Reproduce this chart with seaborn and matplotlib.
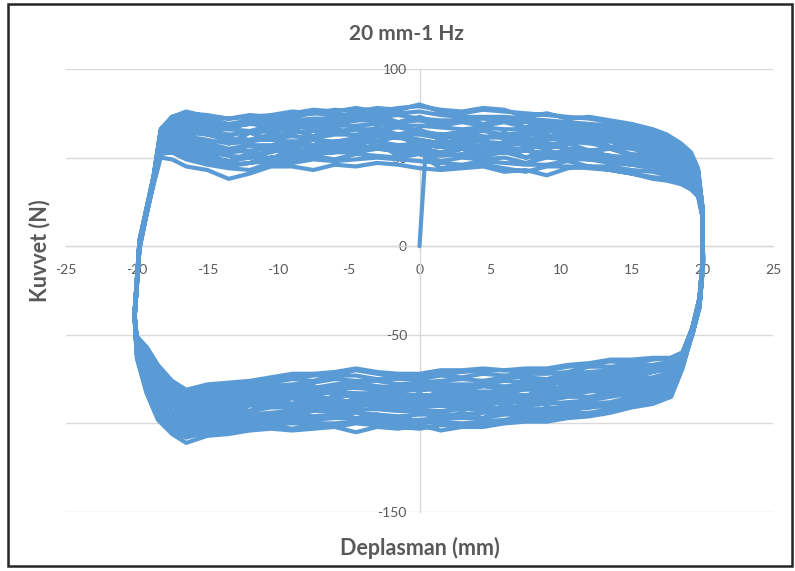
import matplotlib
matplotlib.use("Agg")
import matplotlib.pyplot as plt
import pandas as pd
import seaborn as sns
from matplotlib.patches import Rectangle

TITLE = "20 mm-1 Hz"
X_LABEL = "Deplasman (mm)"
Y_LABEL = "Kuvvet (N)"
X_TICKS = [-25, -20, -15, -10, -5, 0, 5, 10, 15, 20, 25]
Y_TICKS = [-150, -100, -50, 0, 50, 100]

# initial loading from rest
START_X = [0.0, 0.4]
START_Y = [0.0, 50.0]

# displacement samples of the positive-going (upper) branch
X_TOP = [-20.15, -19.8, -19.3, -18.8, -18.3, -17.5, -16.5, -15, -13.5, -12, -10.5, -9, -7.5, -6,
         -4.5, -3, -1.5, 0, 1.5, 3, 4.5, 6, 7.5, 9, 10.5, 12, 13.5, 15, 16.5, 17.5, 18.5, 19.2,
         19.7, 20.0]
# displacement samples of the negative-going (lower) branch
X_BOT = [20.05, 19.8, 19.3, 18.6, 17.8, 16.5, 15, 13.5, 12, 10.5, 9, 7.5, 6, 4.5, 3, 1.5, 0,
         -1.5, -3, -4.5, -6, -7.5, -9, -10.5, -12, -13.5, -15, -16.5, -17.5, -18.5, -19.3, -20.0]

# force read along the upper branch, one row per cycle
TOP_Y = [
    [-42, -3, 18, 35, 51, 51, 47, 44, 40, 42, 44, 46, 45, 47, 47, 48, 47, 46, 44, 45, 46, 44, 42, 45, 45, 44, 43, 41, 39, 38, 36, 33, 29, 17],
    [-40, -2, 19, 36, 53, 53, 49, 46, 44, 43, 47, 47, 49, 48, 49, 50, 49, 48, 47, 46, 48, 47, 46, 46, 48, 45, 45, 43, 42, 40, 38, 34, 31, 18],
    [-41, -1, 18, 37, 54, 55, 52, 48, 46, 47, 48, 50, 51, 49, 52, 51, 50, 52, 48, 50, 49, 50, 47, 50, 49, 49, 47, 46, 44, 42, 40, 36, 32, 18],
    [-39, 0, 20, 36, 55, 56, 54, 51, 48, 50, 50, 52, 53, 53, 53, 55, 54, 52, 51, 52, 51, 53, 50, 51, 52, 50, 50, 48, 46, 44, 41, 38, 33, 19],
    [-40, 1, 19, 37, 55, 57, 56, 53, 51, 50, 54, 53, 55, 55, 57, 55, 57, 55, 53, 55, 53, 53, 54, 52, 54, 53, 51, 50, 48, 46, 43, 39, 34, 19],
    [-38, 1, 20, 38, 56, 59, 57, 55, 53, 54, 55, 57, 56, 58, 58, 59, 57, 58, 56, 56, 57, 55, 55, 57, 55, 54, 55, 52, 51, 48, 45, 41, 35, 20],
    [-39, 2, 19, 37, 58, 61, 60, 58, 55, 57, 57, 59, 60, 59, 61, 62, 61, 60, 58, 60, 59, 58, 59, 57, 59, 58, 56, 55, 52, 50, 47, 43, 36, 19],
    [-39, 1, 20, 38, 59, 63, 62, 60, 58, 59, 61, 62, 61, 63, 63, 64, 63, 63, 61, 62, 61, 62, 60, 61, 61, 59, 59, 57, 55, 52, 49, 44, 37, 20],
    [-40, 2, 19, 37, 60, 65, 64, 63, 61, 60, 63, 64, 65, 64, 66, 66, 67, 65, 63, 64, 65, 63, 64, 62, 63, 62, 61, 59, 57, 54, 50, 46, 38, 21],
    [-38, 2, 21, 38, 62, 67, 67, 65, 63, 64, 65, 67, 67, 68, 68, 69, 68, 68, 67, 66, 67, 66, 66, 65, 64, 64, 62, 61, 59, 56, 52, 47, 39, 20],
    [-39, 3, 20, 39, 63, 69, 69, 68, 66, 65, 68, 69, 70, 69, 71, 71, 70, 71, 68, 70, 68, 70, 67, 67, 67, 65, 64, 63, 61, 58, 54, 48, 40, 22],
    [-38, 2, 21, 38, 64, 71, 72, 70, 68, 69, 70, 71, 72, 72, 73, 73, 74, 72, 71, 71, 72, 71, 70, 69, 69, 67, 66, 65, 62, 59, 55, 50, 41, 21],
    [-37, 3, 20, 39, 65, 72, 73, 72, 69, 71, 72, 73, 75, 74, 74, 76, 75, 76, 74, 73, 73, 73, 72, 71, 70, 69, 68, 66, 64, 61, 56, 51, 42, 22],
    [-38, 4, 22, 40, 66, 73, 75, 74, 72, 73, 74, 76, 75, 77, 76, 78, 77, 80, 76, 75, 77, 76, 75, 74, 73, 72, 70, 67, 65, 62, 57, 52, 43, 23],
    [-40, 2, 20, 37, 52, 53, 50, 47, 45, 47, 50, 49, 52, 53, 55, 56, 55, 59, 58, 60, 61, 63, 62, 65, 66, 65, 64, 63, 62, 59, 55, 50, 40, 21],
    [-38, 1, 19, 38, 64, 70, 71, 70, 67, 69, 68, 67, 68, 65, 66, 63, 62, 60, 58, 58, 56, 53, 54, 52, 50, 49, 48, 46, 45, 42, 39, 36, 31, 18],
    [-39, 2, 20, 36, 56, 58, 52, 52, 47, 53, 49, 55, 52, 57, 53, 58, 51, 56, 52, 55, 50, 56, 50, 54, 51, 52, 49, 51, 46, 47, 42, 40, 33, 20],
    [-41, 0, 18, 37, 60, 66, 63, 65, 58, 64, 60, 66, 62, 67, 61, 67, 63, 66, 60, 65, 61, 64, 59, 63, 58, 61, 56, 58, 53, 53, 48, 45, 37, 22],
    [-38, 3, 21, 39, 64, 70, 70, 66, 66, 70, 66, 72, 70, 70, 71, 74, 70, 73, 69, 72, 69, 71, 67, 70, 66, 68, 64, 64, 60, 58, 53, 48, 41, 19],
    [-40, 1, 19, 36, 53, 55, 52, 50, 48, 51, 53, 56, 57, 59, 60, 62, 63, 64, 63, 64, 62, 61, 59, 58, 55, 53, 51, 48, 46, 43, 40, 37, 32, 21],
    [-39, 2, 20, 38, 62, 67, 66, 63, 60, 60, 60, 59, 57, 56, 55, 55, 54, 54, 53, 55, 56, 57, 58, 60, 61, 62, 61, 60, 58, 56, 52, 47, 38, 20],
    [-37, 1, 19, 37, 57, 61, 59, 56, 53, 57, 54, 58, 60, 56, 61, 59, 62, 57, 56, 60, 55, 59, 57, 55, 58, 54, 55, 51, 50, 48, 44, 41, 34, 22],
    [-41, 0, 18, 35, 50, 49, 45, 43, 38, 41, 45, 45, 43, 46, 45, 47, 46, 44, 43, 44, 45, 42, 43, 40, 44, 45, 43, 41, 38, 37, 35, 32, 28, 17],
    [-38, 3, 21, 40, 66, 73, 76, 73, 72, 74, 73, 75, 77, 76, 78, 76, 78, 79, 77, 76, 78, 77, 73, 75, 72, 73, 71, 69, 66, 63, 58, 53, 44, 23],
]

# force read along the lower branch, one row per cycle
BOT_Y = [
    [-6, -30, -46, -60, -63, -64, -66, -65, -67, -68, -70, -71, -70, -70, -71, -72, -73, -74, -72, -70, -72, -73, -74, -75, -77, -78, -80, -82, -77, -68, -57, -51],
    [-8, -31, -47, -61, -65, -67, -67, -68, -68, -71, -72, -72, -73, -72, -74, -73, -75, -75, -75, -73, -73, -76, -75, -77, -79, -80, -82, -84, -79, -70, -59, -52],
    [-7, -32, -47, -61, -66, -68, -69, -70, -71, -72, -75, -74, -74, -76, -75, -76, -77, -78, -76, -76, -75, -77, -78, -79, -80, -82, -84, -86, -81, -72, -61, -53],
    [-9, -31, -48, -62, -68, -70, -71, -72, -73, -74, -76, -77, -76, -78, -78, -78, -79, -80, -79, -77, -78, -80, -79, -81, -82, -84, -86, -88, -84, -75, -63, -54],
    [-5, -29, -46, -62, -69, -71, -73, -74, -76, -77, -78, -79, -79, -79, -81, -81, -81, -82, -81, -80, -80, -82, -82, -83, -84, -86, -88, -90, -86, -77, -65, -55],
    [-10, -33, -48, -63, -71, -74, -75, -76, -78, -79, -81, -81, -82, -82, -82, -84, -84, -84, -83, -83, -82, -84, -85, -85, -86, -88, -90, -92, -88, -79, -67, -56],
    [-7, -31, -47, -64, -73, -76, -77, -79, -80, -81, -83, -84, -84, -85, -86, -86, -87, -86, -86, -84, -85, -87, -86, -87, -88, -90, -92, -94, -90, -81, -69, -56],
    [-11, -34, -49, -64, -75, -77, -79, -81, -82, -84, -85, -86, -86, -87, -88, -87, -88, -89, -88, -87, -88, -89, -89, -89, -90, -92, -94, -96, -93, -84, -71, -57],
    [-6, -30, -46, -65, -76, -79, -81, -83, -85, -85, -87, -88, -88, -90, -90, -90, -91, -91, -90, -89, -90, -91, -91, -91, -93, -94, -96, -98, -95, -86, -73, -58],
    [-9, -32, -48, -66, -78, -81, -83, -85, -87, -88, -89, -90, -91, -92, -92, -93, -93, -93, -92, -92, -93, -93, -93, -94, -95, -96, -98, -100, -97, -88, -75, -59],
    [-8, -33, -49, -66, -80, -83, -85, -88, -89, -90, -92, -92, -93, -94, -95, -95, -95, -96, -95, -94, -95, -96, -95, -96, -97, -98, -100, -102, -99, -90, -77, -60],
    [-12, -35, -50, -67, -81, -85, -87, -90, -91, -92, -94, -95, -95, -97, -97, -97, -98, -98, -97, -97, -97, -98, -98, -98, -99, -100, -101, -104, -101, -92, -79, -60],
    [-7, -31, -47, -68, -83, -87, -89, -92, -94, -94, -96, -96, -98, -99, -100, -99, -100, -100, -99, -99, -100, -100, -100, -100, -101, -102, -103, -106, -103, -95, -81, -61],
    [-10, -34, -49, -68, -84, -88, -90, -93, -95, -96, -97, -98, -99, -100, -101, -101, -103, -102, -101, -100, -102, -101, -103, -101, -102, -104, -105, -108, -104, -97, -82, -62],
    [-8, -32, -47, -61, -66, -69, -70, -72, -74, -76, -78, -80, -81, -83, -84, -86, -87, -88, -89, -90, -92, -93, -95, -95, -97, -98, -100, -102, -100, -92, -78, -60],
    [-6, -30, -46, -67, -82, -85, -88, -89, -91, -92, -92, -93, -92, -91, -91, -90, -89, -87, -85, -84, -82, -81, -80, -79, -79, -79, -80, -82, -79, -70, -59, -52],
    [-9, -33, -48, -62, -70, -69, -75, -70, -77, -73, -80, -75, -81, -76, -83, -77, -82, -78, -83, -77, -84, -79, -83, -80, -85, -81, -87, -86, -85, -74, -63, -54],
    [-7, -31, -47, -65, -78, -77, -84, -79, -87, -82, -89, -85, -90, -85, -91, -86, -91, -86, -90, -85, -92, -87, -91, -88, -93, -89, -94, -95, -93, -84, -71, -57],
    [-10, -34, -49, -67, -80, -86, -84, -90, -88, -93, -91, -96, -92, -97, -94, -98, -93, -99, -95, -97, -94, -99, -96, -98, -96, -101, -99, -103, -100, -91, -78, -60],
    [-5, -29, -46, -61, -68, -71, -74, -77, -80, -82, -84, -86, -87, -88, -89, -89, -90, -90, -89, -88, -87, -86, -85, -84, -84, -84, -84, -86, -82, -73, -61, -53],
    [-9, -32, -48, -66, -79, -81, -82, -81, -81, -81, -81, -80, -80, -79, -79, -79, -80, -80, -80, -79, -81, -82, -84, -86, -88, -90, -93, -97, -95, -86, -73, -58],
    [-11, -34, -50, -63, -72, -78, -74, -80, -77, -83, -79, -85, -81, -84, -87, -82, -86, -84, -88, -83, -86, -85, -89, -86, -87, -90, -89, -92, -89, -79, -66, -55],
    [-6, -30, -46, -60, -63, -63, -64, -64, -66, -67, -69, -69, -70, -69, -70, -70, -72, -72, -71, -69, -71, -72, -72, -74, -76, -77, -78, -81, -76, -67, -57, -51],
    [-8, -33, -49, -69, -85, -89, -91, -94, -96, -97, -99, -99, -100, -102, -102, -104, -101, -103, -102, -105, -102, -103, -104, -103, -104, -106, -107, -111, -106, -98, -83, -63],
]

# ---- assemble the recorded path in time order ----
xs, ys = list(START_X), list(START_Y)
for k in range(len(TOP_Y)):
    first = 18 if k == 0 else 0
    xs += X_TOP[first:]
    ys += TOP_Y[k][first:]
    xs += X_BOT
    ys += BOT_Y[k]
df = pd.DataFrame({"x": xs, "y": ys})

sns.set_style("white")
plt.rcParams["font.family"] = ["Lato", "DejaVu Sans"]

TEXT = "#595959"
GRID = "#D9D9D9"
LINE = "#5B9BD5"

fig = plt.figure(figsize=(7.95, 5.71), dpi=100)
ax = fig.add_axes([66 / 795, 1 - 512 / 571, 707 / 795, 443 / 571])

sns.lineplot(data=df, x="x", y="y", sort=False, estimator=None, color=LINE,
             linewidth=3.0, ax=ax, zorder=3, solid_joinstyle="round",
             solid_capstyle="round")

ax.set_xlim(-25, 25)
ax.set_ylim(-150, 100)
ax.set_xticks(X_TICKS)
ax.set_yticks(Y_TICKS)
ax.set_xticklabels([str(v) for v in X_TICKS])
ax.set_yticklabels([str(v) for v in Y_TICKS])
ax.set_xlabel("")
ax.set_ylabel("")

for s in ["top", "right"]:
    ax.spines[s].set_visible(False)
for s in ["left", "bottom"]:
    ax.spines[s].set_position("zero")
    ax.spines[s].set_color(GRID)
    ax.spines[s].set_linewidth(1.0)
    ax.spines[s].set_zorder(1)
ax.yaxis.grid(True, color=GRID, linewidth=1.0, zorder=0)
ax.xaxis.grid(False)
ax.set_axisbelow(True)
ax.tick_params(axis="both", length=0, labelsize=10, labelcolor=TEXT)
ax.tick_params(axis="x", pad=13)
ax.tick_params(axis="y", pad=9)

fig.text(406 / 795, 1 - 34 / 571, TITLE, ha="center", va="center", fontsize=15,
         fontweight="bold", color=TEXT)
fig.text(420 / 795, 1 - 548 / 571, X_LABEL, ha="center", va="center", fontsize=15.5,
         fontweight="bold", color=TEXT)
fig.text(40 / 795, 1 - 251 / 571, Y_LABEL, ha="center", va="center", fontsize=15.5,
         fontweight="bold", color=TEXT, rotation=90)

fig.patches.append(Rectangle((8 / 795, 1 - 566 / 571), 784 / 795, 562 / 571,
                             transform=fig.transFigure, fill=False,
                             edgecolor="#262626", linewidth=1.8, zorder=10))

fig.savefig("out.png", dpi=100, facecolor="white")
